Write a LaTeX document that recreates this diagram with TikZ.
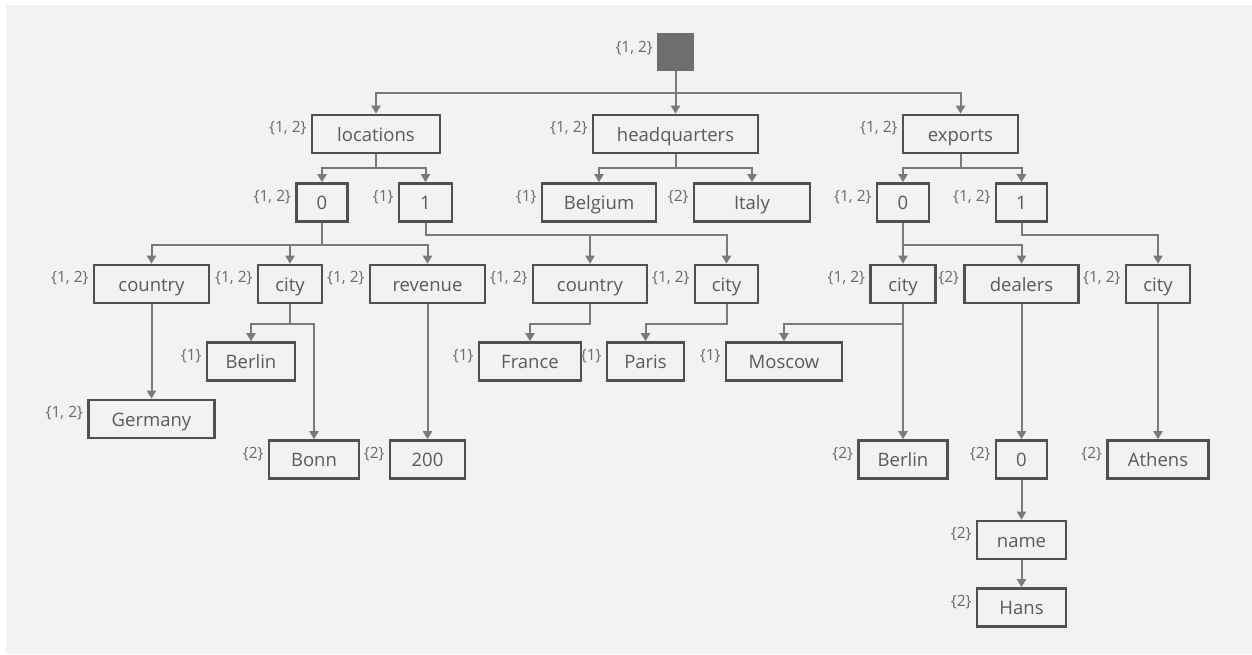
\documentclass[tikz,border=0pt]{standalone}
\usepackage{fontspec}
\setmainfont{Open Sans}
\usetikzlibrary{arrows.meta}
\definecolor{bg}{HTML}{F2F2F2}
\definecolor{boxline}{HTML}{505050}
\definecolor{conncol}{HTML}{7A7A7A}
\definecolor{txt}{HTML}{5A5A5A}
\definecolor{lbl}{HTML}{6A6A6A}
\definecolor{rootfill}{HTML}{6E6E6E}
\tikzset{
  x=1pt, y=-1pt,
  box/.style={draw=boxline, line width=2.6pt, fill=bg, minimum height=38pt,
    inner sep=0pt, text height=14.5pt, text depth=0pt, text=txt,
    font=\fontsize{18.5}{21}\selectfont},
  conn/.style={draw=conncol, line width=2pt,
    -{Triangle[width=9pt,length=8pt]}},
  setlbl/.style={anchor=base east, text=lbl, inner sep=0pt,
    font=\fontsize{15.5}{18}\selectfont},
}
\newcommand{\lbl}[2]{\node[setlbl] at ([xshift=-4pt,yshift=-19pt]#1.north west) {#2};}
\begin{document}
\begin{tikzpicture}
\useasboundingbox (0,0) rectangle (1252,654);
\fill[white] (0,0) rectangle (1252,654);
\fill[bg] (6,5) rectangle (1252,654);

% root
\node[draw=rootfill, fill=rootfill, line width=1pt, minimum width=36pt, minimum height=37pt, inner sep=0pt] (root) at (675.5,52) {};
\lbl{root}{\{1, 2\}}

% level 1
\node[box, minimum width=128pt] (loc) at (376,134) {locations};
\node[box, minimum width=165pt] (hq) at (675.5,134) {headquarters};
\node[box, minimum width=115pt] (exp) at (960.5,134) {exports};
\lbl{loc}{\{1, 2\}}
\lbl{hq}{\{1, 2\}}
\lbl{exp}{\{1, 2\}}

% level 2
\node[box, minimum width=51pt] (l0) at (322,202.5) {0};
\node[box, minimum width=53pt] (l1) at (425.5,202.5) {1};
\node[box, minimum width=114pt] (bel) at (599,202.5) {Belgium};
\node[box, minimum width=116pt] (ita) at (752,202.5) {Italy};
\node[box, minimum width=52pt] (e0) at (903,202.5) {0};
\node[box, minimum width=51pt] (e1) at (1021.5,202.5) {1};
\lbl{l0}{\{1, 2\}}
\lbl{l1}{\{1\}}
\lbl{bel}{\{1\}}
\lbl{ita}{\{2\}}
\lbl{e0}{\{1, 2\}}
\lbl{e1}{\{1, 2\}}

% level 3
\node[box, minimum width=115pt] (cty1) at (151.5,284) {country};
\node[box, minimum width=64pt] (city1) at (290,284) {city};
\node[box, minimum width=115pt] (rev) at (427.5,284) {revenue};
\node[box, minimum width=114pt] (cty2) at (590,284) {country};
\node[box, minimum width=63pt] (city2) at (726.5,284) {city};
\node[box, minimum width=65pt] (city3) at (903,284) {city};
\node[box, minimum width=114pt] (deal) at (1021.5,284) {dealers};
\node[box, minimum width=64pt] (city4) at (1158,284) {city};
\lbl{cty1}{\{1, 2\}}
\lbl{city1}{\{1, 2\}}
\lbl{rev}{\{1, 2\}}
\lbl{cty2}{\{1, 2\}}
\lbl{city2}{\{1, 2\}}
\lbl{city3}{\{1, 2\}}
\lbl{deal}{\{2\}}
\lbl{city4}{\{1, 2\}}

% level 4
\node[box, minimum width=88pt] (ber1) at (251,361.5) {Berlin};
\node[box, minimum width=102pt] (fra) at (530,361.5) {France};
\node[box, minimum width=77pt] (par) at (645.5,361.5) {Paris};
\node[box, minimum width=116pt] (mos) at (784,361.5) {Moscow};
\lbl{ber1}{\{1\}}
\lbl{fra}{\{1\}}
\lbl{par}{\{1\}}
\lbl{mos}{\{1\}}

\node[box, minimum width=126pt] (ger) at (151.5,419) {Germany};
\lbl{ger}{\{1, 2\}}

% level 5
\node[box, minimum width=90pt] (bonn) at (314,459.5) {Bonn};
\node[box, minimum width=75pt] (n200) at (427.5,459.5) {200};
\node[box, minimum width=89pt] (ber2) at (903,459.5) {Berlin};
\node[box, minimum width=51pt] (d0) at (1021.5,459.5) {0};
\node[box, minimum width=101pt] (ath) at (1158,459.5) {Athens};
\lbl{bonn}{\{2\}}
\lbl{n200}{\{2\}}
\lbl{ber2}{\{2\}}
\lbl{d0}{\{2\}}
\lbl{ath}{\{2\}}

\node[box, minimum width=89pt] (name) at (1021.5,540) {name};
\node[box, minimum width=89pt] (hans) at (1021.5,607.5) {Hans};
\lbl{name}{\{2\}}
\lbl{hans}{\{2\}}

% connectors
\draw[conn] (root.south) -- ++(0,22) -| (loc.north);
\draw[conn] (root.south) -- (hq.north);
\draw[conn] (root.south) -- ++(0,22) -| (exp.north);

\draw[conn] (loc.south) -- ++(0,14) -| (l0.north);
\draw[conn] (loc.south) -- ++(0,14) -| (l1.north);
\draw[conn] (hq.south) -- ++(0,14) -| (bel.north);
\draw[conn] (hq.south) -- ++(0,14) -| (ita.north);
\draw[conn] (exp.south) -- ++(0,14) -| (e0.north);
\draw[conn] (exp.south) -- ++(0,14) -| (e1.north);

\draw[conn] (l0.south) -- ++(0,22) -| (cty1.north);
\draw[conn] (l0.south) -- ++(0,22) -| (city1.north);
\draw[conn] (l0.south) -- ++(0,22) -| (rev.north);
\draw[conn] (l1.south) -- ++(0,12) -| (cty2.north);
\draw[conn] (l1.south) -- ++(0,12) -| (city2.north);
\draw[conn] (e0.south) -- ++(0,22) -| (city3.north);
\draw[conn] (e0.south) -- ++(0,22) -| (deal.north);
\draw[conn] (e1.south) -- ++(0,12) -| (city4.north);

\draw[conn] (cty1.south) -- (ger.north);
\draw[conn] (city1.south) -- ++(0,20) -| (ber1.north);
\draw[conn] (city1.south) -- ++(0,20) -| (bonn.north);
\draw[conn] (rev.south) -- (n200.north);
\draw[conn] (cty2.south) -- ++(0,20) -| (fra.north);
\draw[conn] (city2.south) -- ++(0,20) -| (par.north);
\draw[conn] (city3.south) -- ++(0,20) -| (mos.north);
\draw[conn] (city3.south) -- (ber2.north);
\draw[conn] (deal.south) -- (d0.north);
\draw[conn] (city4.south) -- (ath.north);
\draw[conn] (d0.south) -- (name.north);
\draw[conn] (name.south) -- (hans.north);
\end{tikzpicture}
\end{document}
